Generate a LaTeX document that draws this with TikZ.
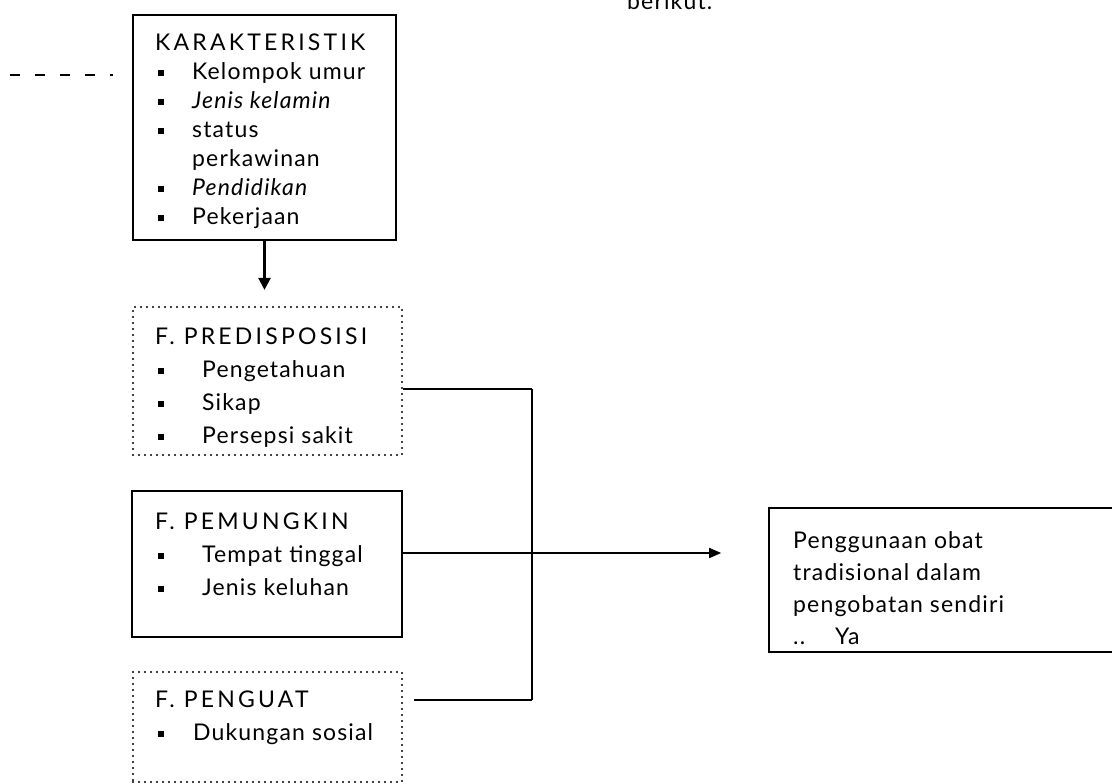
\documentclass[tikz,border=0pt]{standalone}
\usepackage{fontspec}
\setmainfont[LetterSpace=5]{Lato}
\newfontfamily\hurufbesar[LetterSpace=14]{Lato}
\usetikzlibrary{arrows.meta,calc}

\newcommand{\butir}[2]{\hspace*{3pt}\makebox[#1][l]{\rule[3.5pt]{6pt}{6pt}}#2}

\tikzset{
	kotak/.style={draw, line width=1.6pt, inner sep=0pt},
	kotaktitik/.style={draw, line width=2.2pt, line cap=round, dash pattern=on 0pt off 6pt, inner sep=0pt},
	isi/.style={inner sep=0pt, align=left, anchor=north west, font=\fontsize{23}{33}\selectfont},
	garis/.style={line width=1.5pt},
	panah/.style={line width=1.5pt, -{Triangle[width=10pt,length=12pt]}},
}

\begin{document}
\begin{tikzpicture}[x=1pt,y=-1pt]
	\useasboundingbox (0,0) rectangle (1112,784);
	\node[isi, anchor=base west] (berikut) at (627,10) {berikut.};
	% kotak kiri
	\node[kotak, minimum width=263, minimum height=225] (kar) at (264.5,127.5) {};
	\node[isi, font=\fontsize{23}{29}\selectfont] (kartxt) at (155,34) {{\hurufbesar KARAKTERISTIK}\\
		\butir{34pt}{Kelompok umur}\\
		\butir{34pt}{{\itshape Jenis kelamin}}\\
		\butir{34pt}{status}\\
		\hspace*{37pt}perkawinan\\
		\butir{34pt}{{\itshape Pendidikan}}\\
		\butir{34pt}{Pekerjaan}};
	\node[kotaktitik, minimum width=269, minimum height=148] (pred) at (267.5,381) {};
	\node[isi] (predtxt) at (155,328) {{\hurufbesar F. PREDISPOSISI}\\
		\butir{44pt}{Pengetahuan}\\
		\butir{44pt}{Sikap}\\
		\butir{44pt}{Persepsi sakit}};
	\node[kotak, minimum width=270, minimum height=146] (pemu) at (267,564) {};
	\node[isi] (pemutxt) at (155,513) {{\hurufbesar F. PEMUNGKIN}\\
		\butir{44pt}{Tempat tinggal}\\
		\butir{44pt}{Jenis keluhan}};
	\node[kotaktitik, minimum width=269, minimum height=110] (peng) at (267.5,727) {};
	\node[isi] (pengtxt) at (155,691) {{\hurufbesar F. PENGUAT}\\
		\butir{35pt}{Dukungan sosial}};
	% kotak kanan
	\node[kotak, minimum width=356, minimum height=144] (hasil) at (947,580) {};
	\node[isi, font=\fontsize{23}{32}\selectfont] (hasiltxt) at (793,531) {Penggunaan obat\\
		tradisional dalam\\
		pengobatan sendiri\\
		\makebox[42pt][l]{..}Ya};
	% garis
	\coordinate (kiri) at (10,75);
	\coordinate (kanan) at (113,75);
	\draw[garis, dash pattern=on 10pt off 15pt] (kiri) -- (kanan);
	\draw[panah, line width=2.5pt, -{Triangle[width=12pt,length=12pt]}, shorten >=16pt] (kar.south) -- (kar.south |- pred.north);
	\coordinate (jtop) at (532,389);
	\coordinate (jmid) at (532,553);
	\coordinate (jbot) at (532,700);
	\draw[garis] (pred.east |- jtop) -- (jtop);
	\draw[line width=2.8pt] (jtop) -- (jbot);
	\draw[garis] ([xshift=11pt]peng.east |- jbot) -- (jbot);
	\draw[panah, shorten >=47pt] (pemu.east |- jmid) -- (hasil.west |- jmid);
\end{tikzpicture}
\end{document}
